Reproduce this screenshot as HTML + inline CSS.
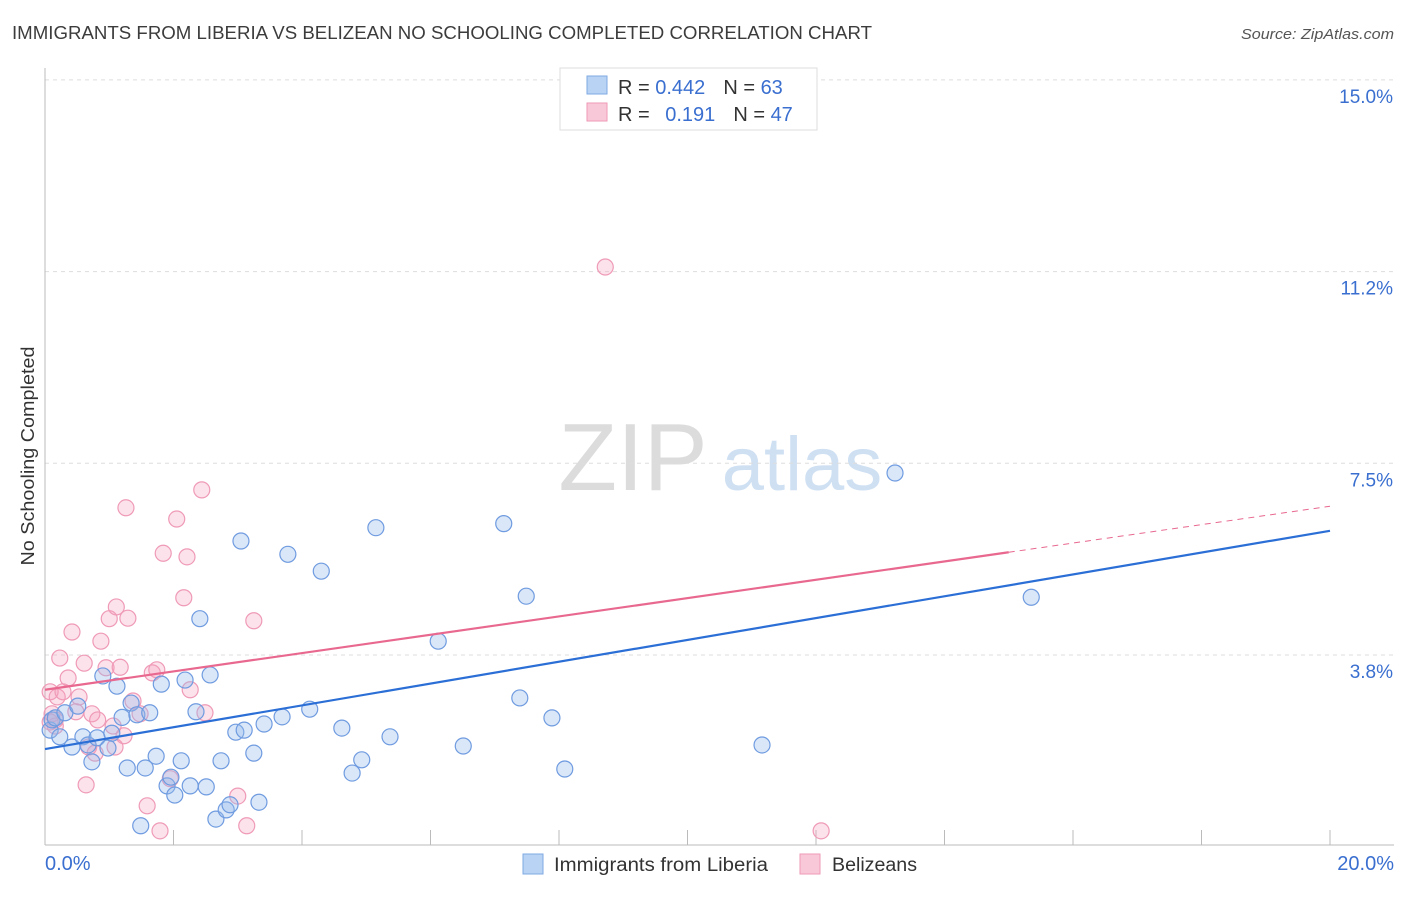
<!DOCTYPE html>
<html><head><meta charset="utf-8">
<style>
body{margin:0;background:#fff;font-family:"Liberation Sans",sans-serif;}
svg text{font-family:"Liberation Sans",sans-serif;}
</style></head>
<body>
<svg id="chart" width="1406" height="892" viewBox="0 0 1406 892">
<text x="12" y="39" font-size="18" fill="#3c3c3c" textLength="860" lengthAdjust="spacingAndGlyphs">IMMIGRANTS FROM LIBERIA VS BELIZEAN NO SCHOOLING COMPLETED CORRELATION CHART</text>
<text x="1241" y="39" font-size="15" fill="#555" font-style="italic" textLength="153" lengthAdjust="spacingAndGlyphs">Source: ZipAtlas.com</text>
<text transform="translate(34,456) rotate(-90)" font-size="18" fill="#333" text-anchor="middle" textLength="219" lengthAdjust="spacingAndGlyphs">No Schooling Completed</text>
<g>
<text x="633" y="490" font-size="96" fill="#dcdcdc" text-anchor="middle" font-family="Liberation Serif,serif">ZIP</text>
<text x="802" y="490" font-size="76" fill="#cfe0f3" text-anchor="middle">atlas</text>
</g>
<g id="grid"></g>
<g id="axes"></g>
<g id="marks"></g>
<g>
<rect x="560" y="68" width="257" height="62" fill="#fff" stroke="#ddd"/>
<rect x="587" y="76" width="20" height="18" fill="#b9d3f5" stroke="#7fa8e0"/>
<rect x="587" y="103" width="20" height="18" fill="#f9c8d8" stroke="#ef9ab6"/>
<text x="618" y="94" font-size="20" fill="#333">R = <tspan fill="#3a6fd0">0.442</tspan><tspan dx="18">N = </tspan><tspan fill="#3a6fd0">63</tspan></text>
<text x="618" y="121" font-size="20" fill="#333">R = <tspan dx="10" fill="#3a6fd0">0.191</tspan><tspan dx="18">N = </tspan><tspan fill="#3a6fd0">47</tspan></text>
</g>
<g>
<rect x="523" y="854" width="20" height="20" fill="#b9d3f5" stroke="#7fa8e0"/>
<text x="554" y="871" font-size="19" fill="#333" textLength="214" lengthAdjust="spacingAndGlyphs">Immigrants from Liberia</text>
<rect x="800" y="854" width="20" height="20" fill="#f9c8d8" stroke="#ef9ab6"/>
<text x="832" y="871" font-size="19" fill="#333" textLength="85" lengthAdjust="spacingAndGlyphs">Belizeans</text>
</g>
</svg>
<script>
const yTicks=[3.75,7.5,11.25,15];
const yTickLabels=["3.8%","7.5%","11.2%","15.0%"];
const xTicks=[0,2,4,6,8,10,12,14,16,18,20];
const blueX=[0.08,0.11,0.16,0.23,0.31,0.42,0.51,0.59,0.67,0.73,0.81,0.90,0.98,1.04,1.12,1.20,1.28,1.34,1.43,1.49,1.56,1.63,1.73,1.81,1.90,1.96,2.02,2.12,2.18,2.26,2.35,2.41,2.51,2.57,2.66,2.74,2.82,2.88,2.97,3.05,3.10,3.25,3.33,3.41,3.69,3.78,4.12,4.30,4.62,4.78,4.93,5.15,5.37,6.12,6.51,7.14,7.39,7.49,7.89,8.09,11.16,13.23,15.35];
const blueY=[2.28,2.48,2.52,2.15,2.62,1.95,2.75,2.15,1.99,1.66,2.13,3.34,1.93,2.22,3.14,2.53,1.54,2.81,2.58,0.41,1.54,2.62,1.77,3.18,1.19,1.36,1.01,1.68,3.26,1.19,2.64,4.46,1.17,3.36,0.54,1.68,0.72,0.82,2.24,5.98,2.28,1.83,0.87,2.40,2.54,5.72,2.69,5.39,2.32,1.44,1.70,6.24,2.15,4.02,1.97,6.32,2.91,4.90,2.52,1.52,1.99,7.31,4.88];
const pinkX=[0.08,0.11,0.16,0.19,0.23,0.28,0.36,0.42,0.48,0.53,0.61,0.64,0.68,0.73,0.78,0.87,0.95,1.00,1.06,1.11,1.17,1.23,1.26,1.29,1.37,1.48,1.59,1.67,1.74,1.79,1.84,1.95,2.05,2.16,2.21,2.26,2.44,2.49,3.00,3.14,3.25,8.72,12.08,0.16,0.08,1.09,0.82];
const pinkY=[3.03,2.60,2.36,2.93,3.69,3.03,3.30,4.20,2.64,2.93,3.59,1.21,1.95,2.60,1.83,4.02,3.50,4.46,2.36,4.69,3.51,2.17,6.63,4.47,2.85,2.60,0.80,3.40,3.46,0.31,5.74,1.33,6.41,4.87,5.67,3.07,6.98,2.62,0.99,0.41,4.42,11.34,0.31,2.48,2.44,1.95,2.48];
const blueTrend=[1.91,6.18];
const pinkTrend=[3.07,5.76,6.66];
const NS="http://www.w3.org/2000/svg";
const X=v=>45+v*64.25, Y=v=>846.7-v*51.12;
function mk(t,a,p){const e=document.createElementNS(NS,t);for(const k in a)e.setAttribute(k,a[k]);p.appendChild(e);return e;}
const grid=document.getElementById('grid'),axes=document.getElementById('axes'),marks=document.getElementById('marks');
yTicks.forEach((v,i)=>{
 const l=mk('line',{x1:45,x2:1394,y1:Y(v),y2:Y(v),stroke:'#ddd','stroke-dasharray':'4,4'},grid);
 
 
 const t=mk('text',{x:1393,y:Y(v)+23,'font-size':19,fill:'#3a6fd0','text-anchor':'end'},axes);
 t.textContent=yTickLabels[i];
 
 
});
const ya=mk('line',{x1:45,x2:45,y1:68,y2:845,stroke:'#bbb'},axes);


const xa=mk('line',{x1:45,x2:1394,y1:845,y2:845,stroke:'#bbb'},axes);


xTicks.forEach(v=>{
 const l=mk('line',{x1:X(v),x2:X(v),y1:830,y2:845,stroke:'#bbb'},axes);
 
 
});
[["0.0%",45,'start'],["20.0%",1394,'end']].forEach(a=>{
 const t=mk('text',{x:a[1],y:870,'font-size':20,fill:'#3a6fd0','text-anchor':a[2]},axes);
 t.textContent=a[0];
 
 
});
pinkX.forEach((x,i)=>{
 const c=mk('circle',{cx:X(x),cy:Y(pinkY[i]),r:8,fill:'rgba(244,160,188,0.3)',stroke:'#ef9ab6','stroke-width':1.2},marks);
 
 
});
blueX.forEach((x,i)=>{
 const c=mk('circle',{cx:X(x),cy:Y(blueY[i]),r:8,fill:'rgba(150,185,235,0.35)',stroke:'#6f9be0','stroke-width':1.2},marks);
 
 
});
const bl=mk('line',{x1:X(0),y1:Y(blueTrend[0]),x2:X(20),y2:Y(blueTrend[1]),stroke:'#2b6fd6','stroke-width':2.2},marks);


const pl=mk('line',{x1:X(0),y1:Y(pinkTrend[0]),x2:X(15),y2:Y(pinkTrend[1]),stroke:'#e8688f','stroke-width':2.2},marks);


const pd=mk('line',{x1:X(15),y1:Y(pinkTrend[1]),x2:X(20),y2:Y(pinkTrend[2]),stroke:'#e8688f','stroke-width':1,'stroke-dasharray':'6,5'},marks);


</script>
</body></html>
